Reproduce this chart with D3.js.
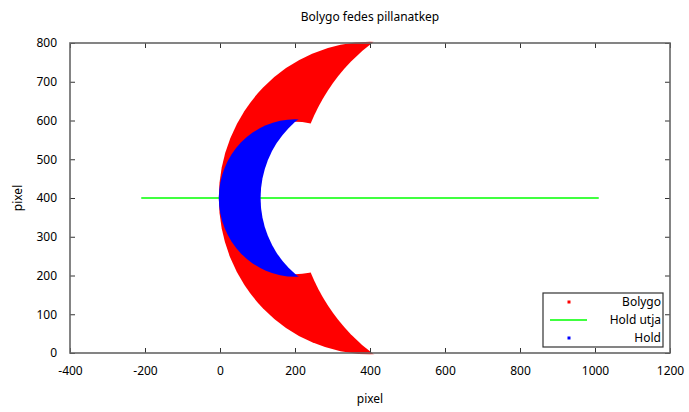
<!DOCTYPE html>
<html>
<head>
<meta charset="utf-8">
<script src="https://cdn.jsdelivr.net/npm/d3@7"></script>
<style>
  html, body { margin: 0; padding: 0; background: #fff; }
  svg text { font-family: "Noto Sans", "DejaVu Sans", sans-serif; font-size: 12px; fill: #000; }
</style>
</head>
<body>
<svg id="chart" width="689" height="412"></svg>
<script>
// Axis ticks
const xTicks = [-400, -200, 0, 200, 400, 600, 800, 1000, 1200];
const yTicks = [0, 100, 200, 300, 400, 500, 600, 700, 800];

// Circles [cx, cy, r] in pixel units of the snapshot
const planetDisk   = [400, 400, 400];   // planet outline
const planetShadow = [700, 400, 500];   // unlit side of the planet
const moonDisk     = [200, 400, 200];   // moon outline (hides the planet)
const moonShadow   = [363, 400, 258];   // unlit side of the moon

// Moon path: start/end x and height
const pathX = [-210, 1010];
const pathY = [400, 400];

const legendNames = ["Bolygo", "Hold utja", "Hold"];
const colors = { planet: "#ff0000", path: "#00ff00", moon: "#0000ff" };

const svg = d3.select("#chart");
const m = { left: 70, right: 670, top: 43, bottom: 353 };

const x = d3.scaleLinear().domain([-400, 1200]).range([m.left, m.right]);
const y = d3.scaleLinear().domain([0, 800]).range([m.bottom, m.top]);

const defs = svg.append("defs");
defs.append("clipPath").attr("id", "plotClip")
  .append("rect").attr("x", m.left - 2).attr("y", m.top - 2)
  .attr("width", m.right - m.left + 4).attr("height", m.bottom - m.top + 4);

// Point markers make every filled region about one pixel wider on each side
const markerPad = 1.2;
function ellipse(sel, c, pad) {
  return sel.append("ellipse")
    .attr("cx", x(c[0])).attr("cy", y(c[1]))
    .attr("rx", x(c[2]) - x(0) + pad).attr("ry", y(0) - y(c[2]) + pad);
}

// Mask for the visible, lit part of the planet
const pm = defs.append("mask").attr("id", "planetMask")
  .attr("maskUnits", "userSpaceOnUse").attr("x", 0).attr("y", 0).attr("width", 689).attr("height", 412);
pm.append("rect").attr("width", 689).attr("height", 412).attr("fill", "#fff");
ellipse(pm, planetShadow, -markerPad).attr("fill", "#000");
ellipse(pm, moonDisk, -markerPad).attr("fill", "#000");

// Mask for the lit part of the moon
const mm = defs.append("mask").attr("id", "moonMask")
  .attr("maskUnits", "userSpaceOnUse").attr("x", 0).attr("y", 0).attr("width", 689).attr("height", 412);
mm.append("rect").attr("width", 689).attr("height", 412).attr("fill", "#fff");
ellipse(mm, moonShadow, -markerPad).attr("fill", "#000");

const plot = svg.append("g").attr("clip-path", "url(#plotClip)");

// Planet crescent
ellipse(plot.append("g").attr("mask", "url(#planetMask)"), planetDisk, markerPad)
  .attr("fill", colors.planet);

// Moon path
plot.append("line")
  .attr("x1", x(pathX[0])).attr("x2", x(pathX[1]))
  .attr("y1", y(pathY[0])).attr("y2", y(pathY[1]))
  .attr("stroke", colors.path).attr("stroke-width", 1.3);

// Moon crescent
ellipse(plot.append("g").attr("mask", "url(#moonMask)"), moonDisk, markerPad)
  .attr("fill", colors.moon);

// Axes with inward ticks, mirrored on top and right
const frameColor = "#666";
const tickLen = 5;
const fmt = d => String(d);
const axisB = d3.axisBottom(x).tickValues(xTicks).tickSizeInner(-tickLen).tickSizeOuter(0).tickPadding(13).tickFormat(fmt);
const axisT = d3.axisTop(x).tickValues(xTicks).tickSizeInner(-tickLen).tickSizeOuter(0).tickFormat("");
const axisL = d3.axisLeft(y).tickValues(yTicks).tickSizeInner(-tickLen).tickSizeOuter(0).tickPadding(13).tickFormat(fmt);
const axisR = d3.axisRight(y).tickValues(yTicks).tickSizeInner(-tickLen).tickSizeOuter(0).tickFormat("");

function styleAxis(g) {
  g.select(".domain").remove();
  g.selectAll(".tick line").attr("stroke", "#333").attr("stroke-width", 1);
  g.selectAll(".tick text").attr("font-family", "Noto Sans").attr("font-size", 12).attr("fill", "#000");
}
svg.append("g").attr("transform", `translate(0,${m.bottom})`).call(axisB).call(styleAxis);
svg.append("g").attr("transform", `translate(0,${m.top})`).call(axisT).call(styleAxis);
svg.append("g").attr("transform", `translate(${m.left},0)`).call(axisL).call(styleAxis);
svg.append("g").attr("transform", `translate(${m.right},0)`).call(axisR).call(styleAxis);

svg.append("rect")
  .attr("x", m.left).attr("y", m.top)
  .attr("width", m.right - m.left).attr("height", m.bottom - m.top)
  .attr("fill", "none").attr("stroke", frameColor).attr("stroke-width", 1.6);

// Titles
svg.append("text").attr("x", (m.left + m.right) / 2).attr("y", 21)
  .attr("text-anchor", "middle").text("Bolygo fedes pillanatkep");
svg.append("text").attr("x", (m.left + m.right) / 2).attr("y", 403)
  .attr("text-anchor", "middle").text("pixel");
svg.append("text").attr("transform", `translate(22,${(m.top + m.bottom) / 2}) rotate(-90)`)
  .attr("text-anchor", "middle").text("pixel");

// Legend
const lg = svg.append("g");
const lgBox = { x0: 543, y0: 293, x1: 663, y1: 347 };
lg.append("rect").attr("x", lgBox.x0).attr("y", lgBox.y0)
  .attr("width", lgBox.x1 - lgBox.x0).attr("height", lgBox.y1 - lgBox.y0)
  .attr("fill", "#fff").attr("stroke", "#333").attr("stroke-width", 1.2);
const rowY = d3.scalePoint().domain(legendNames).range([302, 338]);
lg.append("rect").attr("x", 567.5).attr("y", rowY("Bolygo") - 1.5).attr("width", 3).attr("height", 3).attr("fill", colors.planet);
lg.append("line").attr("x1", 550).attr("x2", 587).attr("y1", rowY("Hold utja")).attr("y2", rowY("Hold utja"))
  .attr("stroke", colors.path).attr("stroke-width", 1.3);
lg.append("rect").attr("x", 567.5).attr("y", rowY("Hold") - 1.5).attr("width", 3).attr("height", 3).attr("fill", colors.moon);
lg.selectAll("text.lab").data(legendNames).join("text").attr("class", "lab")
  .attr("x", 661).attr("y", d => rowY(d) + 4)
  .attr("text-anchor", "end").text(d => d);
</script>
</body>
</html>
